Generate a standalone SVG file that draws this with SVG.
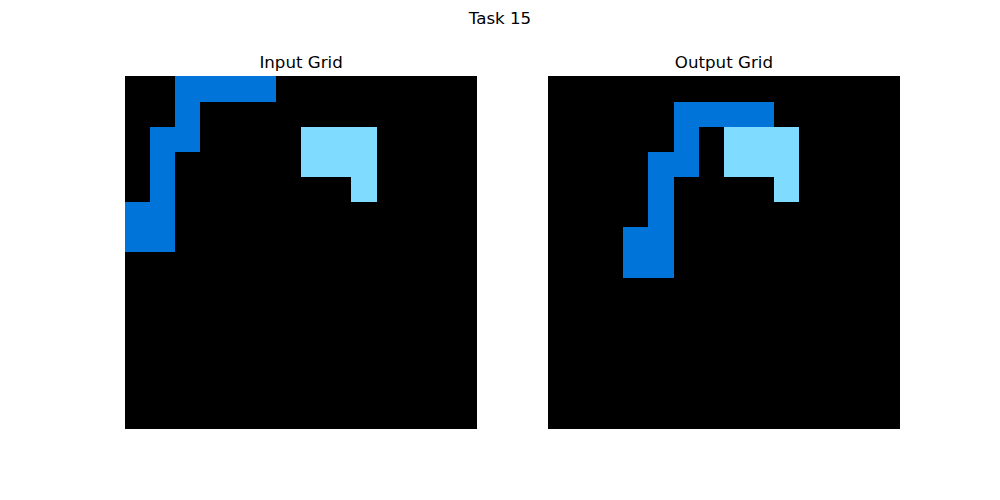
<svg xmlns="http://www.w3.org/2000/svg" width="1000" height="500" viewBox="0 0 1000 500">
<style>
.t{font-family:"DejaVu Sans",sans-serif;font-size:16.67px;fill:#000;text-anchor:middle}
.bg{fill:#000}
.b{fill:#0074D9}
.c{fill:#7FDBFF}
</style>
<rect width="1000" height="500" fill="#fff"/>
<text class="t" x="500" y="24">Task 15</text>
<g id="input-grid">
<text class="t" x="301.1" y="68">Input Grid</text>
<g transform="translate(125,76.36) scale(25.162)" shape-rendering="crispEdges">
<rect class="bg" x="0" y="0" width="14" height="14"/>
<rect class="b" x="2" y="0" width="4" height="1"/>
<rect class="b" x="2" y="1" width="1" height="1"/>
<rect class="b" x="1" y="2" width="2" height="1"/>
<rect class="b" x="1" y="3" width="1" height="2"/>
<rect class="b" x="0" y="5" width="2" height="2"/>
<rect class="c" x="7" y="2" width="3" height="2"/>
<rect class="c" x="9" y="4" width="1" height="1"/>
</g>
</g>
<g id="output-grid">
<text class="t" x="723.9" y="68">Output Grid</text>
<g transform="translate(547.73,76.36) scale(25.162)" shape-rendering="crispEdges">
<rect class="bg" x="0" y="0" width="14" height="14"/>
<rect class="b" x="5" y="1" width="4" height="1"/>
<rect class="b" x="5" y="2" width="1" height="1"/>
<rect class="b" x="4" y="3" width="2" height="1"/>
<rect class="b" x="4" y="4" width="1" height="2"/>
<rect class="b" x="3" y="6" width="2" height="2"/>
<rect class="c" x="7" y="2" width="3" height="2"/>
<rect class="c" x="9" y="4" width="1" height="1"/>
</g>
</g>
<g id="connectors"/>
</svg>
